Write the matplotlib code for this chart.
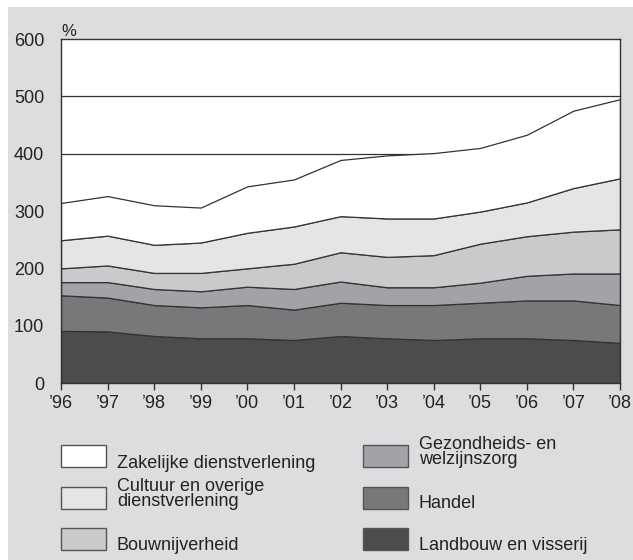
import matplotlib
matplotlib.use("Agg")
import matplotlib.pyplot as plt
from matplotlib.patches import Rectangle

plt.rcParams['font.family'] = ['Liberation Sans', 'DejaVu Sans']

years = ["\u201996", "\u201997", "\u201998", "\u201999", "\u201900", "\u201901", "\u201902",
         "\u201903", "\u201904", "\u201905", "\u201906", "\u201907", "\u201908"]
landbouw = [91, 90, 82, 78, 78, 75, 82, 78, 75, 78, 78, 75, 70]
handel = [62, 59, 54, 54, 58, 53, 58, 58, 61, 62, 66, 69, 66]
gezondheid = [23, 27, 28, 28, 32, 36, 37, 31, 31, 35, 43, 47, 55]
bouw = [24, 29, 28, 32, 32, 44, 51, 53, 56, 68, 69, 73, 77]
cultuur = [49, 52, 49, 53, 62, 65, 63, 67, 64, 56, 59, 76, 89]
zakelijk = [65, 69, 69, 61, 81, 82, 98, 110, 114, 111, 118, 135, 138]

labels = ["Landbouw en visserij", "Handel", "Gezondheids- en\nwelzijnszorg",
          "Bouwnijverheid", "Cultuur en overige\ndienstverlening", "Zakelijke dienstverlening"]
colors = ["#4b4c4e", "#77787a", "#a2a3a6", "#c9cacc", "#e4e5e7", "#ffffff"]
yticks = [0, 100, 200, 300, 400, 500, 600]

BG = "#dcdddf"
EDGE = "#333333"
FS = 13

fig = plt.figure(figsize=(6.33, 5.6), dpi=100)
fig.patch.set_facecolor("white")
# grey panel
fig.patches.append(Rectangle((8/633, 0), 1, 1 - 7/560, transform=fig.transFigure,
                             facecolor=BG, edgecolor="none", zorder=-10))

ax = fig.add_axes([61/633, 1 - 383/560, 559/633, (383 - 39)/560])
ax.set_facecolor("white")
x = list(range(len(years)))
for yv in yticks[1:-1]:
    ax.axhline(yv, color=EDGE, lw=0.9, zorder=0)
ax.stackplot(x, landbouw, handel, gezondheid, bouw, cultuur, zakelijk,
             colors=colors, edgecolor=EDGE, linewidth=0.9, zorder=1)
ax.set_xlim(0, len(years) - 1)
ax.set_ylim(0, 600)
ax.set_xticks(x)
ax.set_xticklabels(years, fontsize=FS, color="#222222")
ax.set_yticks(yticks)
ax.set_yticklabels([str(v) for v in yticks], fontsize=FS, color="#222222")
ax.tick_params(axis='y', length=0, pad=12)
ax.tick_params(axis='x', length=5, width=1, color=EDGE, pad=4, direction='out')
for s in ax.spines.values():
    s.set_color(EDGE)
    s.set_linewidth(1.0)
    s.set_zorder(3)
ax.text(0.0, 1.0, "%", transform=ax.transAxes, fontsize=12, color="#222222",
        ha="left", va="bottom")

# legend (manual)
def legend_item(px, py_top, color, label, text_y_px, va):
    fig.patches.append(Rectangle((px/633, 1 - (py_top + 22)/560), 45/633, 22/560,
                                 transform=fig.transFigure, facecolor=color,
                                 edgecolor="#555555", linewidth=1.0))
    fig.text((px + 56)/633, 1 - text_y_px/560, label, fontsize=FS, color="#222222",
             ha="left", va=va, linespacing=0.92)

legend_item(61, 445, colors[5], labels[5], 468, "baseline")
legend_item(61, 487, colors[4], labels[4], 494, "center")
legend_item(61, 528, colors[3], labels[3], 550, "baseline")
legend_item(363, 445, colors[2], labels[2], 452, "center")
legend_item(363, 487, colors[1], labels[1], 508, "baseline")
legend_item(363, 528, colors[0], labels[0], 550, "baseline")

fig.savefig("out.png", dpi=100)
